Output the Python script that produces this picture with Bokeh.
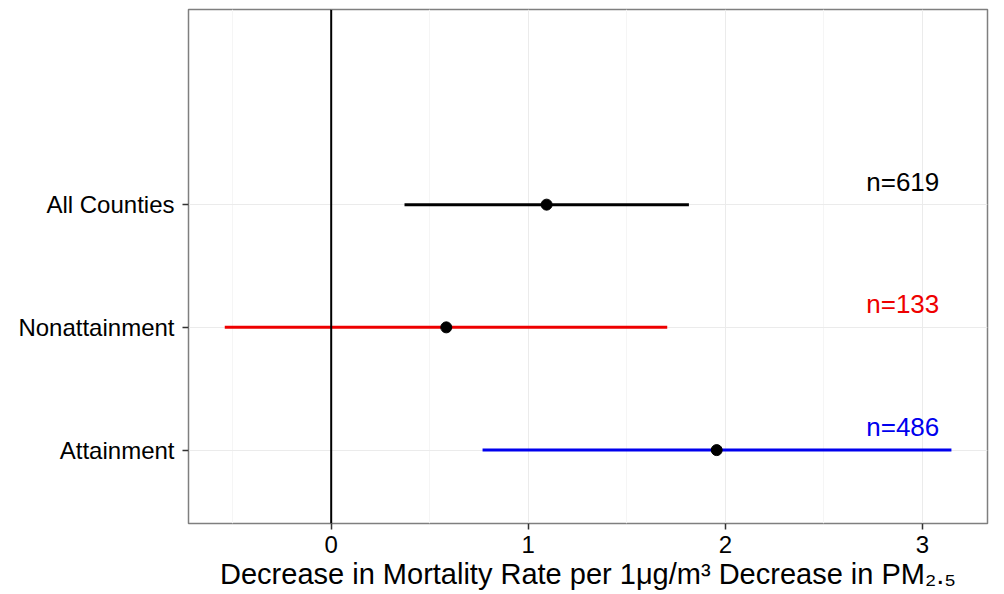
from bokeh.plotting import figure
from bokeh.models import ColumnDataSource, FixedTicker, Span
from bokeh.embed import file_html
from bokeh.resources import INLINE

# Data
categories = ["Attainment", "Nonattainment", "All Counties"]
estimate = [1.956, 0.584, 1.093]
lower = [0.768, -0.54, 0.372]
upper = [3.147, 1.705, 1.815]
n_labels = ["n=486", "n=133", "n=619"]
label_x = [2.9, 2.9, 2.9]
x_ticks = [0, 1, 2, 3]
x_minor = [-0.5, 0.5, 1.5, 2.5]

# style
colors = ["#0000EE", "#EE0000", "#000000"]
positions = [i + 1 for i in range(len(categories))]

src = ColumnDataSource(dict(cat=categories, est=estimate, lo=lower, hi=upper,
                            pos=positions, lab=n_labels, lx=label_x, col=colors))

p = figure(width=1004, height=594, output_backend="svg", toolbar_location=None,
           x_range=(-0.724, 3.33), y_range=(0.402, 4.59),
           min_border_left=188, min_border_right=17, min_border_top=9, min_border_bottom=71)
p.background_fill_color = "white"
p.border_fill_color = "white"
p.outline_line_color = "#7f7f7f"
p.outline_line_width = 1.5

p.xaxis.ticker = FixedTicker(ticks=x_ticks, minor_ticks=x_minor)
p.yaxis.ticker = FixedTicker(ticks=positions)
p.yaxis.major_label_overrides = {pos: c for pos, c in zip(positions, categories)}

p.xgrid.grid_line_color = "#ebebeb"
p.xgrid.minor_grid_line_color = "#f5f5f5"
p.ygrid.grid_line_color = "#ebebeb"

for ax in (p.xaxis[0], p.yaxis[0]):
    ax.axis_line_color = None
    ax.major_tick_line_color = "#333333"
    ax.major_tick_line_width = 1.5
    ax.major_tick_in = 0
    ax.major_tick_out = 6
    ax.minor_tick_line_color = None
    ax.major_label_text_font = "Liberation Sans"
    ax.major_label_text_font_size = "24px"
    ax.major_label_text_color = "#000000"

p.xaxis.major_label_standoff = 6
p.yaxis.major_label_standoff = 8
p.xaxis.axis_label = "Decrease in Mortality Rate per 1\u03bcg/m\u00b3 Decrease in PM\u2082.\u2085"
p.xaxis.axis_label_text_font = "Liberation Sans"
p.xaxis.axis_label_text_font_size = "29px"
p.xaxis.axis_label_text_font_style = "normal"
p.xaxis.axis_label_text_color = "#000000"
p.xaxis.axis_label_standoff = 2

p.add_layout(Span(location=0, dimension="height", line_color="black", line_width=2))

p.segment(x0="lo", y0="pos", x1="hi", y1="pos", line_color="col", line_width=3, source=src)
p.scatter(x="est", y="pos", size=11, fill_color="black", line_color="black", source=src)
p.text(x="lx", y="pos", text="lab", text_color="col", y_offset=-23,
       text_align="center", text_baseline="middle", text_font_size="26px",
       text_font={"value": "Liberation Sans"}, source=src)

with open("out.html", "w") as f:
    f.write(file_html(p, INLINE))
